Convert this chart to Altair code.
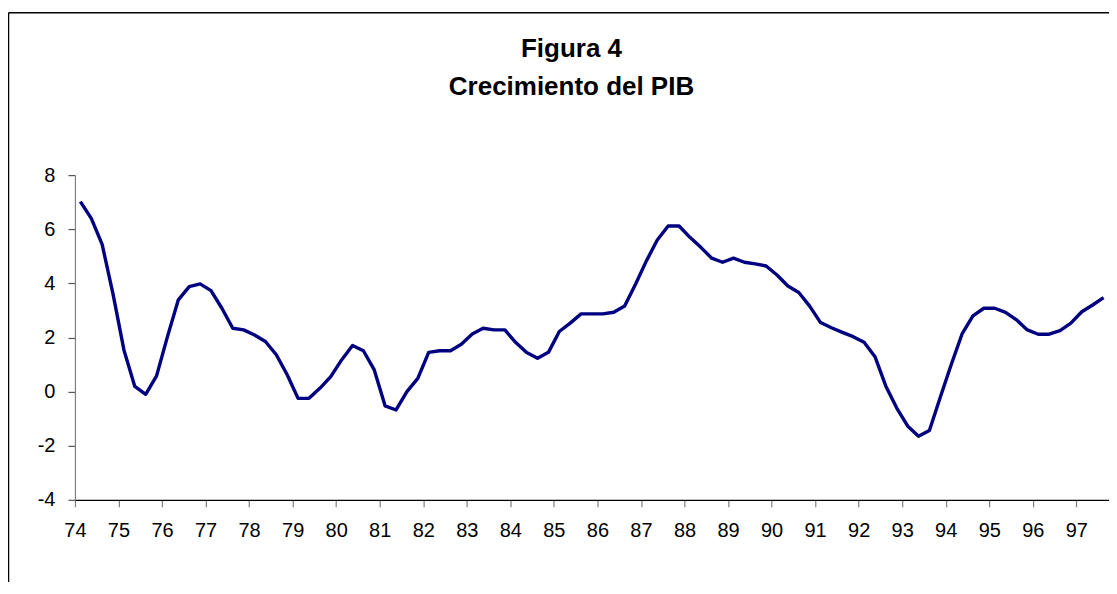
import altair as alt
import pandas as pd

years = list(range(74, 98))
quarters = ["T1", "T2", "T3", "T4"]

# Quarterly GDP growth, 1974Q1 .. 1997Q3
growth = [
    7.02, 6.40, 5.44, 3.60,
    1.54, 0.19, -0.10, 0.58,
    2.03, 3.39, 3.88, 3.98,
    3.73, 3.08, 2.34, 2.28,
    2.09, 1.85, 1.36, 0.62,
    -0.25, -0.25, 0.12, 0.55,
    1.17, 1.70, 1.51, 0.80,
    -0.53, -0.68, 0.00, 0.49,
    1.45, 1.51, 1.51, 1.75,
    2.13, 2.34, 2.28, 2.28,
    1.81, 1.44, 1.23, 1.45,
    2.22, 2.53, 2.87, 2.87,
    2.87, 2.93, 3.16, 3.97,
    4.83, 5.60, 6.12, 6.12,
    5.70, 5.33, 4.93, 4.78,
    4.93, 4.78, 4.72, 4.64,
    4.31, 3.90, 3.66, 3.16,
    2.55, 2.36, 2.19, 2.03,
    1.82, 1.29, 0.20, -0.61,
    -1.27, -1.65, -1.44, -0.21,
    0.99, 2.13, 2.80, 3.08,
    3.08, 2.93, 2.65, 2.28,
    2.12, 2.12, 2.25, 2.53,
    2.95, 3.20, 3.47,
]

tick_years = years
y_ticks = [-4, -2, 0, 2, 4, 6, 8]
title_lines = ["Figura 4", "Crecimiento del PIB"]

rows = []
for i, v in enumerate(growth):
    yr = years[i // 4]
    q = i % 4
    rows.append({"t": yr + (q + 0.5) / 4.0, "periodo": f"{yr} {quarters[q]}", "pib": v})
df = pd.DataFrame(rows)

FONT = "Liberation Sans"
W, H = 1035, 325

x_scale = alt.Scale(domain=[74, 97.75], nice=False, zero=False)
y_scale = alt.Scale(domain=[-4, 8], nice=False, zero=False)

line = alt.Chart(df).mark_line(color="#000080", strokeWidth=3.4, strokeJoin="round").encode(
    x=alt.X("t:Q", scale=x_scale,
            axis=alt.Axis(values=tick_years, labelExpr="'' + datum.value", title=None, grid=False,
                          domainColor="#000000", domainWidth=1.2,
                          tickColor="#7f7f7f", tickSize=7, tickWidth=1.2,
                          labelFont=FONT, labelFontSize=20, labelColor="#000000",
                          labelPadding=14, labelFlush=False, labelOverlap=False)),
    y=alt.Y("pib:Q", scale=y_scale,
            axis=alt.Axis(values=y_ticks, labelExpr="'' + datum.value", title=None, grid=False,
                          domainColor="#7f7f7f", domainWidth=1.2,
                          tickColor="#555555", tickSize=7, tickWidth=1.2,
                          labelFont=FONT, labelFontSize=20, labelColor="#000000",
                          labelPadding=13)),
)

tdf = pd.DataFrame({"txt": title_lines, "k": [0, 1]})
title1 = alt.Chart(tdf.iloc[[0]]).mark_text(
    font=FONT, fontSize=26, fontWeight="bold", color="#000000",
    align="center", baseline="alphabetic"
).encode(text="txt:N", x=alt.value(497), y=alt.value(-118))
title2 = alt.Chart(tdf.iloc[[1]]).mark_text(
    font=FONT, fontSize=26, fontWeight="bold", color="#000000",
    align="center", baseline="alphabetic"
).encode(text="txt:N", x=alt.value(497), y=alt.value(-80))

# outer frame (left and top edges visible)
frame_top = alt.Chart(tdf.iloc[[0]]).mark_rule(color="#000000", strokeWidth=1.5).encode(
    x=alt.value(-66.5), x2=alt.value(W + 40), y=alt.value(-162.5))
frame_left = alt.Chart(tdf.iloc[[0]]).mark_rule(color="#000000", strokeWidth=1.5).encode(
    x=alt.value(-66.5), y=alt.value(-162.5), y2=alt.value(H + 120))

chart = alt.layer(frame_top, frame_left, title1, title2, line).properties(
    width=W, height=H,
    padding={"left": 67, "top": 167, "right": 0, "bottom": 82},
    autosize=alt.AutoSizeParams(type="none"),
    background="#ffffff",
).configure_view(stroke=None)

chart.save("out.html", embed_options={"renderer": "svg", "actions": False})
